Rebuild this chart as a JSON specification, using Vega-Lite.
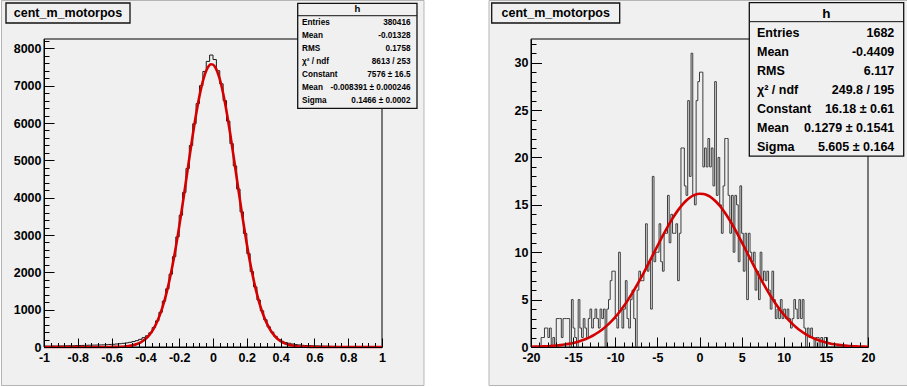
{
  "$schema": "https://vega.github.io/schema/vega-lite/v6.json",
  "background": "white",
  "padding": {"left": 0, "top": 0, "right": 0, "bottom": 1},
  "bounds": "flush",
  "spacing": 149,
  "config": {
    "view": {"stroke": null},
    "axis": {"labelFont": "Liberation Sans", "labelFontWeight": "bold", "labelFontSize": 12.5, "labelColor": "black", "tickColor": "black", "domainColor": "black", "grid": false, "title": null, "labelFlush": false, "labelOverlap": false, "tickWidth": 1, "domainWidth": 1},
    "text": {"font": "Liberation Sans", "fontWeight": "bold", "color": "black"}
  },
  "datasets": {
    "leftHist": [
      {"x":-1.00,"n":25},{"x":-0.98,"n":22},{"x":-0.96,"n":28},{"x":-0.94,"n":25},{"x":-0.92,"n":30},{"x":-0.90,"n":28},{"x":-0.88,"n":32},{"x":-0.86,"n":35},{"x":-0.84,"n":33},{"x":-0.82,"n":38},
      {"x":-0.80,"n":40},{"x":-0.78,"n":42},{"x":-0.76,"n":45},{"x":-0.74,"n":48},{"x":-0.72,"n":50},{"x":-0.70,"n":52},{"x":-0.68,"n":55},{"x":-0.66,"n":58},{"x":-0.64,"n":62},{"x":-0.62,"n":68},
      {"x":-0.60,"n":72},{"x":-0.58,"n":80},{"x":-0.56,"n":88},{"x":-0.54,"n":98},{"x":-0.52,"n":110},{"x":-0.50,"n":125},{"x":-0.48,"n":145},{"x":-0.46,"n":170},{"x":-0.44,"n":205},{"x":-0.42,"n":250},
      {"x":-0.40,"n":300},{"x":-0.38,"n":380},{"x":-0.36,"n":520},{"x":-0.34,"n":700},{"x":-0.32,"n":930},{"x":-0.30,"n":1230},{"x":-0.28,"n":1560},{"x":-0.26,"n":1950},{"x":-0.24,"n":2420},{"x":-0.22,"n":2950},
      {"x":-0.20,"n":3530},{"x":-0.18,"n":4140},{"x":-0.16,"n":4780},{"x":-0.14,"n":5400},{"x":-0.12,"n":5980},{"x":-0.10,"n":6520},{"x":-0.08,"n":7000},{"x":-0.06,"n":7380},{"x":-0.04,"n":7650},{"x":-0.02,"n":7820},
      {"x":0.00,"n":7700},{"x":0.02,"n":7400},{"x":0.04,"n":7050},{"x":0.06,"n":6600},{"x":0.08,"n":6050},{"x":0.10,"n":5450},{"x":0.12,"n":4850},{"x":0.14,"n":4230},{"x":0.16,"n":3620},{"x":0.18,"n":3040},
      {"x":0.20,"n":2500},{"x":0.22,"n":2020},{"x":0.24,"n":1610},{"x":0.26,"n":1260},{"x":0.28,"n":970},{"x":0.30,"n":730},{"x":0.32,"n":540},{"x":0.34,"n":400},{"x":0.36,"n":285},{"x":0.38,"n":200},
      {"x":0.40,"n":150},{"x":0.42,"n":120},{"x":0.44,"n":100},{"x":0.46,"n":80},{"x":0.48,"n":65},{"x":0.50,"n":55},{"x":0.52,"n":45},{"x":0.54,"n":40},{"x":0.56,"n":36},{"x":0.58,"n":32},
      {"x":0.60,"n":30},{"x":0.62,"n":28},{"x":0.64,"n":25},{"x":0.66,"n":22},{"x":0.68,"n":20},{"x":0.70,"n":17},{"x":0.72,"n":15},{"x":0.74,"n":13},{"x":0.76,"n":12},{"x":0.78,"n":10},
      {"x":0.80,"n":9},{"x":0.82,"n":8},{"x":0.84,"n":8},{"x":0.86,"n":7},{"x":0.88,"n":7},{"x":0.90,"n":6},{"x":0.92,"n":6},{"x":0.94,"n":5},{"x":0.96,"n":5},{"x":0.98,"n":5},
      {"x":1.00,"n":5}
    ],
    "leftFit": [
      {"x":-1,"f":0},{"x":-0.9,"f":0},{"x":-0.8,"f":0},{"x":-0.7,"f":0.02},{"x":-0.65,"f":0.5},{"x":-0.625,"f":1.1},{"x":-0.6,"f":2.2},{"x":-0.575,"f":4.3},{"x":-0.55,"f":8.2},{"x":-0.525,"f":15.2},
      {"x":-0.5,"f":27.4},{"x":-0.475,"f":47.8},{"x":-0.45,"f":81.1},{"x":-0.425,"f":133.6},{"x":-0.4,"f":213.9},{"x":-0.375,"f":332.3},{"x":-0.35,"f":501.6},{"x":-0.325,"f":735.6},{"x":-0.3,"f":1047.9},{"x":-0.275,"f":1449.7},
      {"x":-0.25,"f":1948.4},{"x":-0.225,"f":2543.5},{"x":-0.2,"f":3224.8},{"x":-0.175,"f":3972.1},{"x":-0.15,"f":4751.7},{"x":-0.125,"f":5521.8},{"x":-0.1,"f":6232.5},{"x":-0.075,"f":6833.2},{"x":-0.05,"f":7277.0},{"x":-0.0375,"f":7428.0},
      {"x":-0.025,"f":7527.6},{"x":-0.0125,"f":7573.0},{"x":0,"f":7563.6},{"x":0.0125,"f":7499.4},{"x":0.025,"f":7382.0},{"x":0.0375,"f":7213.6},{"x":0.05,"f":6998.1},{"x":0.075,"f":6444.2},{"x":0.1,"f":5763.9},{"x":0.125,"f":5007.5},
      {"x":0.15,"f":4226.1},{"x":0.175,"f":3464.2},{"x":0.2,"f":2757.9},{"x":0.225,"f":2133.1},{"x":0.25,"f":1602.6},{"x":0.275,"f":1169.3},{"x":0.3,"f":828.7},{"x":0.325,"f":570.5},{"x":0.35,"f":381.5},{"x":0.375,"f":247.8},
      {"x":0.4,"f":156.4},{"x":0.425,"f":95.8},{"x":0.45,"f":57.0},{"x":0.475,"f":33.0},{"x":0.5,"f":18.5},{"x":0.525,"f":10.1},{"x":0.55,"f":5.4},{"x":0.575,"f":2.8},{"x":0.6,"f":1.4},{"x":0.625,"f":0.7},
      {"x":0.65,"f":0.3},{"x":0.7,"f":0.05},{"x":0.8,"f":0},{"x":0.9,"f":0},{"x":1,"f":0}
    ],
    "rightHist": [
      {"x":-20.0,"n":0},{"x":-19.8,"n":0},{"x":-19.6,"n":0},{"x":-19.4,"n":0},{"x":-19.2,"n":0},
      {"x":-19.0,"n":0},{"x":-18.8,"n":1},{"x":-18.6,"n":1},{"x":-18.4,"n":2},{"x":-18.2,"n":2},
      {"x":-18.0,"n":1},{"x":-17.8,"n":2},{"x":-17.6,"n":0},{"x":-17.4,"n":1},{"x":-17.2,"n":0},
      {"x":-17.0,"n":3},{"x":-16.8,"n":3},{"x":-16.6,"n":3},{"x":-16.4,"n":1},{"x":-16.2,"n":3},
      {"x":-16.0,"n":3},{"x":-15.8,"n":3},{"x":-15.6,"n":3},{"x":-15.4,"n":0},{"x":-15.2,"n":5},
      {"x":-15.0,"n":2},{"x":-14.8,"n":1},{"x":-14.6,"n":0},{"x":-14.4,"n":5},{"x":-14.2,"n":2},
      {"x":-14.0,"n":1},{"x":-13.8,"n":3},{"x":-13.6,"n":2},{"x":-13.4,"n":1},{"x":-13.2,"n":3},
      {"x":-13.0,"n":4},{"x":-12.8,"n":2},{"x":-12.6,"n":3},{"x":-12.4,"n":4},{"x":-12.2,"n":3},
      {"x":-12.0,"n":2},{"x":-11.8,"n":4},{"x":-11.6,"n":3},{"x":-11.4,"n":4},{"x":-11.2,"n":0},
      {"x":-11.0,"n":4},{"x":-10.8,"n":5},{"x":-10.6,"n":7},{"x":-10.4,"n":8},{"x":-10.2,"n":8},
      {"x":-10.0,"n":3},{"x":-9.8,"n":2},{"x":-9.6,"n":10},{"x":-9.4,"n":4},{"x":-9.2,"n":2},
      {"x":-9.0,"n":4},{"x":-8.8,"n":7},{"x":-8.6,"n":3},{"x":-8.4,"n":2},{"x":-8.2,"n":5},
      {"x":-8.0,"n":6},{"x":-7.8,"n":3},{"x":-7.6,"n":0},{"x":-7.4,"n":6},{"x":-7.2,"n":8},
      {"x":-7.0,"n":7},{"x":-6.8,"n":7},{"x":-6.6,"n":8},{"x":-6.4,"n":13},{"x":-6.2,"n":8},
      {"x":-6.0,"n":9},{"x":-5.8,"n":4},{"x":-5.6,"n":18},{"x":-5.4,"n":9},{"x":-5.2,"n":10},
      {"x":-5.0,"n":10},{"x":-4.8,"n":13},{"x":-4.6,"n":9},{"x":-4.4,"n":8},{"x":-4.2,"n":12},
      {"x":-4.0,"n":12},{"x":-3.8,"n":16},{"x":-3.6,"n":11},{"x":-3.4,"n":14},{"x":-3.2,"n":12},
      {"x":-3.0,"n":12},{"x":-2.8,"n":13},{"x":-2.6,"n":7},{"x":-2.4,"n":12},{"x":-2.2,"n":21},
      {"x":-2.0,"n":21},{"x":-1.8,"n":17},{"x":-1.6,"n":16},{"x":-1.4,"n":26},{"x":-1.2,"n":18},
      {"x":-1.0,"n":31},{"x":-0.8,"n":16},{"x":-0.6,"n":15},{"x":-0.4,"n":26},{"x":-0.2,"n":28},
      {"x":0.0,"n":29},{"x":0.2,"n":29},{"x":0.4,"n":19},{"x":0.6,"n":21},{"x":0.8,"n":19},
      {"x":1.0,"n":22},{"x":1.2,"n":19},{"x":1.4,"n":21},{"x":1.6,"n":17},{"x":1.8,"n":28},
      {"x":2.0,"n":16},{"x":2.2,"n":20},{"x":2.4,"n":15},{"x":2.6,"n":12},{"x":2.8,"n":17},
      {"x":3.0,"n":22},{"x":3.2,"n":22},{"x":3.4,"n":16},{"x":3.6,"n":12},{"x":3.8,"n":16},
      {"x":4.0,"n":10},{"x":4.2,"n":16},{"x":4.4,"n":15},{"x":4.6,"n":9},{"x":4.8,"n":17},
      {"x":5.0,"n":12},{"x":5.2,"n":8},{"x":5.4,"n":12},{"x":5.6,"n":5},{"x":5.8,"n":12},
      {"x":6.0,"n":10},{"x":6.2,"n":9},{"x":6.4,"n":10},{"x":6.6,"n":6},{"x":6.8,"n":8},
      {"x":7.0,"n":5},{"x":7.2,"n":10},{"x":7.4,"n":7},{"x":7.6,"n":8},{"x":7.8,"n":7},
      {"x":8.0,"n":8},{"x":8.2,"n":6},{"x":8.4,"n":4},{"x":8.6,"n":8},{"x":8.8,"n":5},
      {"x":9.0,"n":3},{"x":9.2,"n":4},{"x":9.4,"n":3},{"x":9.6,"n":5},{"x":9.8,"n":3},
      {"x":10.0,"n":4},{"x":10.2,"n":3},{"x":10.4,"n":4},{"x":10.6,"n":3},{"x":10.8,"n":2},
      {"x":11.0,"n":3},{"x":11.2,"n":5},{"x":11.4,"n":4},{"x":11.6,"n":3},{"x":11.8,"n":5},
      {"x":12.0,"n":3},{"x":12.2,"n":5},{"x":12.4,"n":2},{"x":12.6,"n":0},{"x":12.8,"n":2},
      {"x":13.0,"n":1},{"x":13.2,"n":2},{"x":13.4,"n":1},{"x":13.6,"n":0},{"x":13.8,"n":1},
      {"x":14.0,"n":1},{"x":14.2,"n":0},{"x":14.4,"n":1},{"x":14.6,"n":0},{"x":14.8,"n":1},
      {"x":15.0,"n":1},{"x":15.2,"n":0},{"x":15.4,"n":0},{"x":15.6,"n":0},{"x":15.8,"n":0},
      {"x":16.0,"n":0},{"x":16.2,"n":0},{"x":16.4,"n":0},{"x":16.6,"n":0},{"x":16.8,"n":0},
      {"x":17.0,"n":0},{"x":17.2,"n":0},{"x":17.4,"n":0},{"x":17.6,"n":0},{"x":17.8,"n":0},
      {"x":18.0,"n":0},{"x":18.2,"n":0},{"x":18.4,"n":0},{"x":18.6,"n":0},{"x":18.8,"n":0},
      {"x":19.0,"n":0},{"x":19.2,"n":0},{"x":19.4,"n":0},{"x":19.6,"n":0},{"x":19.8,"n":0},
      {"x":20.0,"n":0}
    ],
    "rightFit": [
      {"x":-20,"f":0.0256},{"x":-19.5,"f":0.0351},{"x":-19,"f":0.0479},{"x":-18.5,"f":0.0646},{"x":-18,"f":0.0866},{"x":-17.5,"f":0.1151},{"x":-17,"f":0.1518},{"x":-16.5,"f":0.1985},{"x":-16,"f":0.2577},{"x":-15.5,"f":0.3317},
      {"x":-15,"f":0.4237},{"x":-14.5,"f":0.5368},{"x":-14,"f":0.675},{"x":-13.5,"f":0.8419},{"x":-13,"f":1.0415},{"x":-12.5,"f":1.2786},{"x":-12,"f":1.557},{"x":-11.5,"f":1.881},{"x":-11,"f":2.254},{"x":-10.5,"f":2.681},
      {"x":-10,"f":3.162},{"x":-9.5,"f":3.700},{"x":-9,"f":4.296},{"x":-8.5,"f":4.948},{"x":-8,"f":5.654},{"x":-7.5,"f":6.409},{"x":-7,"f":7.208},{"x":-6.5,"f":8.041},{"x":-6,"f":8.901},{"x":-5.5,"f":9.774},
      {"x":-5,"f":10.647},{"x":-4.5,"f":11.506},{"x":-4,"f":12.336},{"x":-3.5,"f":13.122},{"x":-3,"f":13.847},{"x":-2.5,"f":14.496},{"x":-2,"f":15.055},{"x":-1.5,"f":15.512},{"x":-1,"f":15.856},{"x":-0.5,"f":16.079},
      {"x":0,"f":16.176},{"x":0.5,"f":16.144},{"x":1,"f":15.985},{"x":1.5,"f":15.703},{"x":2,"f":15.302},{"x":2.5,"f":14.794},{"x":3,"f":14.189},{"x":3.5,"f":13.502},{"x":4,"f":12.746},{"x":4.5,"f":11.937},
      {"x":5,"f":11.090},{"x":5.5,"f":10.222},{"x":6,"f":9.347},{"x":6.5,"f":8.479},{"x":7,"f":7.630},{"x":7.5,"f":6.813},{"x":8,"f":6.035},{"x":8.5,"f":5.303},{"x":9,"f":4.623},{"x":9.5,"f":3.998},
      {"x":10,"f":3.431},{"x":10.5,"f":2.920},{"x":11,"f":2.466},{"x":11.5,"f":2.066},{"x":12,"f":1.717},{"x":12.5,"f":1.415},{"x":13,"f":1.158},{"x":13.5,"f":0.940},{"x":14,"f":0.757},{"x":14.5,"f":0.604},
      {"x":15,"f":0.479},{"x":15.5,"f":0.3765},{"x":16,"f":0.2935},{"x":16.5,"f":0.2270},{"x":17,"f":0.1742},{"x":17.5,"f":0.1327},{"x":18,"f":0.1003},{"x":18.5,"f":0.0752},{"x":19,"f":0.0559},{"x":19.5,"f":0.0412},
      {"x":20,"f":0.0302}
    ]
  },
  "hconcat": [
    {
      "width": 338,
      "height": 308,
      "layer": [
        {
          "data": {"values": [{}]},
          "mark": {"type": "rect", "fill": "#f0f0f0", "stroke": "#b5b5b5", "strokeWidth": 1},
          "encoding": {
            "x": {"datum": -1.2515, "type": "quantitative", "axis": null},
            "x2": {"datum": 1.2485},
            "y": {"datum": 9281, "type": "quantitative", "axis": null},
            "y2": {"datum": -1031}
          }
        },
        {
          "data": {"values": [{}]},
          "mark": {"type": "rect", "fill": "#f0f0f0", "stroke": "#000000", "strokeWidth": 1},
          "encoding": {
            "x": {"datum": -1, "type": "quantitative", "axis": null},
            "x2": {"datum": 1},
            "y": {"datum": 0, "type": "quantitative", "axis": null},
            "y2": {"datum": 8250}
          }
        },
        {
          "data": {"name": "leftHist"},
          "mark": {"type": "line", "interpolate": "step-after", "stroke": "#1a1a1a", "strokeWidth": 1},
          "encoding": {
            "x": {"field": "x", "type": "quantitative", "scale": {"domain": [-1, 1], "nice": false, "zero": false},
                  "axis": {"orient": "bottom", "zindex": 2, "values": [-1, -0.8, -0.6, -0.4, -0.2, 0, 0.2, 0.4, 0.6, 0.8, 1], "format": "~g", "labelExpr": "replace(datum.label, '−', '-')", "tickSize": -9, "labelPadding": 13}},
            "y": {"field": "n", "type": "quantitative", "scale": {"domain": [0, 8250], "nice": false, "zero": false},
                  "axis": {"orient": "left", "zindex": 2, "values": [0, 1000, 2000, 3000, 4000, 5000, 6000, 7000, 8000], "format": "d", "tickSize": -10, "labelPadding": 13}}
          }
        },
        {
          "data": {"name": "leftFit"},
          "mark": {"type": "line", "interpolate": "monotone", "stroke": "#d40000", "strokeWidth": 2.6},
          "encoding": {
            "x": {"field": "x", "type": "quantitative",
                  "axis": {"orient": "bottom", "zindex": 2, "values": [-0.96,-0.92,-0.88,-0.84,-0.76,-0.72,-0.68,-0.64,-0.56,-0.52,-0.48,-0.44,-0.36,-0.32,-0.28,-0.24,-0.16,-0.12,-0.08,-0.04,0.04,0.08,0.12,0.16,0.24,0.28,0.32,0.36,0.44,0.48,0.52,0.56,0.64,0.68,0.72,0.76,0.84,0.88,0.92,0.96], "labels": false, "domain": false, "tickSize": -4.5}},
            "y": {"field": "f", "type": "quantitative",
                  "axis": {"orient": "left", "zindex": 2, "values": [200,400,600,800,1200,1400,1600,1800,2200,2400,2600,2800,3200,3400,3600,3800,4200,4400,4600,4800,5200,5400,5600,5800,6200,6400,6600,6800,7200,7400,7600,7800,8200], "labels": false, "domain": false, "tickSize": -5}}
          }
        },
        {
          "data": {"values": [{}]},
          "mark": {"type": "rect", "fill": "#f0f0f0", "stroke": "#111111", "strokeWidth": 1.3},
          "encoding": {
            "x": {"datum": -1.2249, "type": "quantitative", "axis": null},
            "x2": {"datum": -0.4911},
            "y": {"datum": 9214, "type": "quantitative", "axis": null},
            "y2": {"datum": 8679}
          }
        },
        {
          "data": {"values": [{}]},
          "mark": {"type": "text", "text": "cent_m_motorpos", "fontSize": 12.5, "align": "center", "baseline": "middle"},
          "encoding": {
            "x": {"datum": -0.858, "type": "quantitative", "axis": null},
            "y": {"datum": 8946, "type": "quantitative", "axis": null}
          }
        },
        {
          "data": {"values": [{}]},
          "mark": {"type": "rect", "fill": "#f0f0f0", "stroke": "#111111", "strokeWidth": 1.3},
          "encoding": {
            "x": {"datum": 0.5012, "type": "quantitative", "axis": null},
            "x2": {"datum": 1.2071},
            "y": {"datum": 9206, "type": "quantitative", "axis": null},
            "y2": {"datum": 6394}
          }
        },
        {
          "data": {"values": [{}]},
          "mark": {"type": "rule", "stroke": "#111111", "strokeWidth": 1},
          "encoding": {
            "x": {"datum": 0.5012, "type": "quantitative", "axis": null},
            "x2": {"datum": 1.2071},
            "y": {"datum": 8874, "type": "quantitative", "axis": null}
          }
        },
        {
          "data": {"values": [{}]},
          "mark": {"type": "text", "text": "h", "fontSize": 9.5, "align": "center", "baseline": "middle"},
          "encoding": {
            "x": {"datum": 0.8541, "type": "quantitative", "axis": null},
            "y": {"datum": 9046, "type": "quantitative", "axis": null}
          }
        },
        {
          "data": {"values": [{}]},
          "mark": {"type": "text", "text": ["Entries", "Mean", "RMS", "χ² / ndf", "Constant", "Mean", "Sigma"], "fontSize": 8.2, "lineHeight": 12.9, "align": "left", "baseline": "middle"},
          "encoding": {
            "x": {"datum": 0.5266, "type": "quantitative", "axis": null},
            "y": {"datum": 8671, "type": "quantitative", "axis": null}
          }
        },
        {
          "data": {"values": [{}]},
          "mark": {"type": "text", "text": ["380416", "-0.01328", "0.1758", "8613 / 253", "7576 ± 16.5", "-0.008391 ± 0.000246", "0.1466 ± 0.0002"], "fontSize": 8.2, "lineHeight": 12.9, "align": "right", "baseline": "middle"},
          "encoding": {
            "x": {"datum": 1.1686, "type": "quantitative", "axis": null},
            "y": {"datum": 8671, "type": "quantitative", "axis": null}
          }
        }
      ],
      "resolve": {"axis": {"x": "independent", "y": "independent"}}
    },
    {
      "width": 337,
      "height": 308,
      "layer": [
        {
          "data": {"values": [{}]},
          "mark": {"type": "rect", "fill": "#f0f0f0", "stroke": "#b5b5b5", "strokeWidth": 1},
          "encoding": {
            "x": {"datum": -24.985, "type": "quantitative", "axis": null},
            "x2": {"datum": 24.688},
            "y": {"datum": 36.562, "type": "quantitative", "axis": null},
            "y2": {"datum": -4.062}
          }
        },
        {
          "data": {"values": [{}]},
          "mark": {"type": "rect", "fill": "#f0f0f0", "stroke": "#000000", "strokeWidth": 1},
          "encoding": {
            "x": {"datum": -20, "type": "quantitative", "axis": null},
            "x2": {"datum": 20},
            "y": {"datum": 0, "type": "quantitative", "axis": null},
            "y2": {"datum": 32.5}
          }
        },
        {
          "data": {"name": "rightHist"},
          "mark": {"type": "line", "interpolate": "step-after", "stroke": "#3c3c3c", "strokeWidth": 1},
          "encoding": {
            "x": {"field": "x", "type": "quantitative", "scale": {"domain": [-20, 20], "nice": false, "zero": false},
                  "axis": {"orient": "bottom", "zindex": 2, "values": [-20, -15, -10, -5, 0, 5, 10, 15, 20], "format": "d", "labelExpr": "replace(datum.label, '−', '-')", "tickSize": -10, "labelPadding": 14}},
            "y": {"field": "n", "type": "quantitative", "scale": {"domain": [0, 32.5], "nice": false, "zero": false},
                  "axis": {"orient": "left", "zindex": 2, "values": [0, 5, 10, 15, 20, 25, 30], "format": "d", "tickSize": -10.5, "labelPadding": 13.5}}
          }
        },
        {
          "data": {"name": "rightFit"},
          "mark": {"type": "line", "interpolate": "monotone", "stroke": "#d40000", "strokeWidth": 2.6},
          "encoding": {
            "x": {"field": "x", "type": "quantitative",
                  "axis": {"orient": "bottom", "zindex": 2, "values": [-19,-18,-17,-16,-14,-13,-12,-11,-9,-8,-7,-6,-4,-3,-2,-1,1,2,3,4,6,7,8,9,11,12,13,14,16,17,18,19], "labels": false, "domain": false, "tickSize": -5}},
            "y": {"field": "f", "type": "quantitative",
                  "axis": {"orient": "left", "zindex": 2, "values": [1,2,3,4,6,7,8,9,11,12,13,14,16,17,18,19,21,22,23,24,26,27,28,29,31,32], "labels": false, "domain": false, "tickSize": -5}}
          }
        },
        {
          "data": {"values": [{}]},
          "mark": {"type": "rect", "fill": "#f0f0f0", "stroke": "#111111", "strokeWidth": 1.3},
          "encoding": {
            "x": {"datum": -24.665, "type": "quantitative", "axis": null},
            "x2": {"datum": -9.472},
            "y": {"datum": 36.30, "type": "quantitative", "axis": null},
            "y2": {"datum": 34.19}
          }
        },
        {
          "data": {"values": [{}]},
          "mark": {"type": "text", "text": "cent_m_motorpos", "fontSize": 12.5, "align": "center", "baseline": "middle"},
          "encoding": {
            "x": {"datum": -17.068, "type": "quantitative", "axis": null},
            "y": {"datum": 35.24, "type": "quantitative", "axis": null}
          }
        },
        {
          "data": {"values": [{}]},
          "mark": {"type": "rect", "fill": "#f0f0f0", "stroke": "#111111", "strokeWidth": 1.3},
          "encoding": {
            "x": {"datum": 5.911, "type": "quantitative", "axis": null},
            "x2": {"datum": 24.237},
            "y": {"datum": 36.33, "type": "quantitative", "axis": null},
            "y2": {"datum": 20.15}
          }
        },
        {
          "data": {"values": [{}]},
          "mark": {"type": "rule", "stroke": "#111111", "strokeWidth": 1},
          "encoding": {
            "x": {"datum": 5.911, "type": "quantitative", "axis": null},
            "x2": {"datum": 24.237},
            "y": {"datum": 34.33, "type": "quantitative", "axis": null}
          }
        },
        {
          "data": {"values": [{}]},
          "mark": {"type": "text", "text": "h", "fontSize": 13.5, "align": "center", "baseline": "middle"},
          "encoding": {
            "x": {"datum": 15.074, "type": "quantitative", "axis": null},
            "y": {"datum": 35.14, "type": "quantitative", "axis": null}
          }
        },
        {
          "data": {"values": [{}]},
          "mark": {"type": "text", "text": ["Entries", "Mean", "RMS", "χ² / ndf", "Constant", "Mean", "Sigma"], "fontSize": 12.5, "lineHeight": 19, "align": "left", "baseline": "middle"},
          "encoding": {
            "x": {"datum": 6.825, "type": "quantitative", "axis": null},
            "y": {"datum": 33.165, "type": "quantitative", "axis": null}
          }
        },
        {
          "data": {"values": [{}]},
          "mark": {"type": "text", "text": ["1682", "-0.4409", "6.117", "249.8 / 195", "16.18 ± 0.61", "0.1279 ± 0.1541", "5.605 ± 0.164"], "fontSize": 12.5, "lineHeight": 19, "align": "right", "baseline": "middle"},
          "encoding": {
            "x": {"datum": 23.122, "type": "quantitative", "axis": null},
            "y": {"datum": 33.165, "type": "quantitative", "axis": null}
          }
        }
      ],
      "resolve": {"axis": {"x": "independent", "y": "independent"}}
    }
  ]
}
